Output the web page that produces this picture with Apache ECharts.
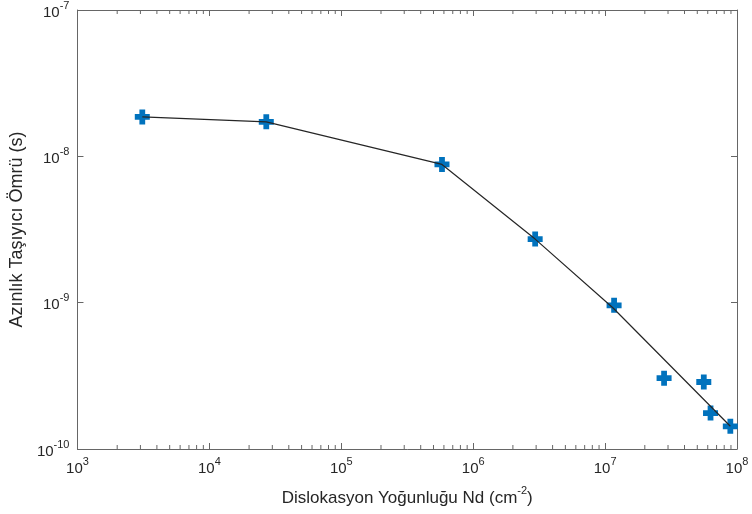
<!DOCTYPE html>
<html><head><meta charset="utf-8">
<script src="https://cdn.jsdelivr.net/npm/echarts@6/dist/echarts.min.js"></script>
<style>html,body{margin:0;padding:0;background:#fff}#c{width:752px;height:514px}</style>
</head><body><div id="c"></div>
<script>
// Measured points (markers)
const densities = [3.1e3, 2.7e4, 5.8e5, 2.95e6, 1.17e7, 2.8e7, 5.6e7, 6.3e7, 8.9e7];
const lifetimes = [1.86e-8, 1.72e-8, 8.8e-9, 2.72e-9, 9.6e-10, 3.05e-10, 2.87e-10, 1.76e-10, 1.43e-10];
// Fitted line vertices
const lineX = [3.1e3, 2.7e4, 5.8e5, 2.95e6, 1.15e7, 8.9e7];
const lineY = [1.86e-8, 1.72e-8, 8.8e-9, 2.72e-9, 9.2e-10, 1.43e-10];
// Axis ranges
const xMin = 1e3, xMax = 1e8, yMin = 1e-10, yMax = 1e-7;
const xDecades = [3, 4, 5, 6, 7];
const yDecades = [-10, -9, -8];
const minorMult = [2, 3, 4, 5, 6, 7, 8, 9];

const minorX = [];
xDecades.forEach(k => minorMult.forEach(m => minorX.push(m * Math.pow(10, k))));
const minorY = [];
yDecades.forEach(k => minorMult.forEach(m => minorY.push(m * Math.pow(10, k))));

const txt = '#262626';
const axisCol = '#666';
const rich = {
  b: {fontSize: 15, color: txt, fontFamily: 'Liberation Sans', padding: [5, 0, 0, 0]},
  s: {fontSize: 11, color: txt, fontFamily: 'Liberation Sans', verticalAlign: 'top'}
};
function expLabel(v) {
  const e = Math.round(Math.log10(v));
  return '{b|10}{s|' + e + '}';
}
const plusPath = 'path://M4,0 H9 V4 H13 V9 H9 V13 H4 V9 H0 V4 H4 Z';

const chart = echarts.init(document.getElementById('c'), null, {renderer: 'canvas'});

function minorTickItem(isX) {
  return function (params, api) {
    const v = api.value(0);
    let a, b;
    if (isX) {
      const p1 = api.coord([v, yMin]);
      const p2 = api.coord([v, yMax]);
      a = {x1: p1[0], y1: p1[1], x2: p1[0], y2: p1[1] - 4};
      b = {x1: p2[0], y1: p2[1], x2: p2[0], y2: p2[1] + 4};
    } else {
      const p1 = api.coord([xMin, v]);
      const p2 = api.coord([xMax, v]);
      a = {x1: p1[0], y1: p1[1], x2: p1[0] + 4, y2: p1[1]};
      b = {x1: p2[0], y1: p2[1], x2: p2[0] - 4, y2: p2[1]};
    }
    const st = {stroke: axisCol, lineWidth: 1};
    return {type: 'group', children: [
      {type: 'line', shape: a, style: st},
      {type: 'line', shape: b, style: st}
    ]};
  };
}

const commonAxis = {
  type: 'log', logBase: 10,
  axisLine: {show: true, onZero: false, lineStyle: {color: axisCol, width: 1}},
  axisTick: {show: true, inside: true, length: 6, lineStyle: {color: axisCol}},
  splitLine: {show: false},
  minorTick: {show: false}
};

chart.setOption({
  animation: false,
  backgroundColor: '#fff',
  grid: {left: 77, right: 15, top: 10, bottom: 65, containLabel: false},
  xAxis: [
    Object.assign({}, commonAxis, {
      position: 'bottom', min: xMin, max: xMax, interval: 1,
      axisLabel: {formatter: expLabel, rich: rich, margin: 7},
      name: '{a|Dislokasyon Yoğunluğu Nd (cm}{s|-2}{a|)}',
      nameLocation: 'middle', nameGap: 36,
      nameTextStyle: {rich: {
        a: {fontSize: 17, color: txt, fontFamily: 'Liberation Sans', padding: [5, 0, 0, 0]},
        s: {fontSize: 11, color: txt, fontFamily: 'Liberation Sans', verticalAlign: 'top'}
      }}
    }),
    Object.assign({}, commonAxis, {
      position: 'top', min: xMin, max: xMax, interval: 1,
      axisLabel: {show: false}
    })
  ],
  yAxis: [
    Object.assign({}, commonAxis, {
      position: 'left', min: yMin, max: yMax, interval: 1,
      axisLabel: {formatter: expLabel, rich: rich, margin: 8},
      name: 'Azınlık Taşıyıcı Ömrü (s)',
      nameLocation: 'middle', nameGap: 45, nameRotate: 90,
      nameTextStyle: {fontSize: 18, color: txt, fontFamily: 'Liberation Sans'}
    }),
    Object.assign({}, commonAxis, {
      position: 'right', min: yMin, max: yMax, interval: 1,
      axisLabel: {show: false}
    })
  ],
  series: [
    {
      type: 'line',
      data: lineX.map((x, i) => [x, lineY[i]]),
      showSymbol: false, symbol: 'none',
      lineStyle: {color: '#262626', width: 1.2},
      z: 3
    },
    {
      type: 'scatter',
      data: densities.map((x, i) => [x, lifetimes[i]]),
      symbol: plusPath, symbolSize: 15,
      itemStyle: {color: '#0072BD', opacity: 1},
      z: 2
    },
    {
      type: 'custom',
      renderItem: minorTickItem(true),
      data: minorX.map(v => [v, yMin]),
      silent: true, clip: false, z: 1
    },
    {
      type: 'custom',
      renderItem: minorTickItem(false),
      data: minorY.map(v => [xMin, v]),
      silent: true, clip: false, z: 1
    }
  ]
});
</script>
</body></html>
